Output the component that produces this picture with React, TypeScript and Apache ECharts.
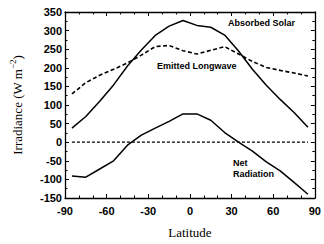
import React, { useEffect, useRef } from "react";
import * as echarts from "echarts";

const latitudes = [-85, -75, -65, -55, -45, -35, -25, -15, -5, 5, 15, 25, 35, 45, 55, 65, 75, 85];
const absorbedSolar = [38, 69, 110, 154, 205, 248, 287, 312, 327, 314, 309, 288, 245, 196, 153, 115, 80, 40];
const emittedLongwave = [130, 160, 180, 196, 213, 234, 257, 260, 246, 237, 247, 257, 237, 217, 201, 193, 186, 178];
const netRadiation = [-91, -94, -72, -50, -8, 19, 38, 56, 76, 76, 59, 26, 0, -24, -53, -77, -108, -140];
const zeroLatitudes = [-85, 85];
const zeroValues = [0, 0];

const labelFont = "'Liberation Sans', Arial, sans-serif";
const serifFont = "'Liberation Serif', 'Times New Roman', serif";

export default function App() {
  const ref = useRef<HTMLDivElement>(null);
  useEffect(() => {
    if (!ref.current) return;
    const chart = echarts.init(ref.current, null, { renderer: "svg" });
    const pair = (xs: number[], ys: number[]) => xs.map((x, i) => [x, ys[i]]);
    const axisLine = { show: true, onZero: false, lineStyle: { color: "#000", width: 1.3 } };
    const xCommon = {
      type: "value" as const,
      min: -90,
      max: 90,
      interval: 30,
      axisLine,
      axisTick: { show: true, inside: true, length: 4, lineStyle: { color: "#000", width: 1 } },
      minorTick: { show: true, splitNumber: 3, length: 2.5, lineStyle: { color: "#000", width: 1 } },
      splitLine: { show: false },
    };
    const yCommon = {
      type: "value" as const,
      min: -150,
      max: 350,
      interval: 50,
      axisLine,
      axisTick: { show: true, inside: true, length: 4, lineStyle: { color: "#000", width: 1 } },
      minorTick: { show: true, splitNumber: 2, length: 2.5, lineStyle: { color: "#000", width: 1 } },
      splitLine: { show: false },
    };
    chart.setOption({
      animation: false,
      grid: { left: 65, right: 5, top: 12, bottom: 45 },
      xAxis: [
        {
          ...xCommon,
          position: "bottom",
          axisLabel: { color: "#000", fontFamily: labelFont, fontWeight: "bold", fontSize: 11, margin: 7 },
          name: "Latitude",
          nameLocation: "middle",
          nameGap: 28,
          nameTextStyle: { color: "#000", fontFamily: serifFont, fontSize: 13 },
        },
        { ...xCommon, position: "top", axisLabel: { show: false } },
      ],
      yAxis: [
        {
          ...yCommon,
          position: "left",
          axisLabel: { color: "#000", fontFamily: labelFont, fontWeight: "bold", fontSize: 11, margin: 3 },
          name: "{a|Irradiance (W m}{s|−2}{a|)}",
          nameLocation: "middle",
          nameRotate: 90,
          nameGap: 41,
          nameTextStyle: {
            rich: {
              a: { color: "#000", fontFamily: serifFont, fontSize: 13, lineHeight: 16, verticalAlign: "bottom" },
              s: { color: "#000", fontFamily: serifFont, fontSize: 9, lineHeight: 16, verticalAlign: "top" },
            },
          },
        },
        { ...yCommon, position: "right", axisLabel: { show: false } },
      ],
      series: [
        {
          type: "line",
          name: "Absorbed Solar",
          data: pair(latitudes, absorbedSolar),
          symbol: "none",
          lineStyle: { color: "#000", width: 1.5 },
        },
        {
          type: "line",
          name: "Emitted Longwave",
          data: pair(latitudes, emittedLongwave),
          symbol: "none",
          lineStyle: { color: "#000", width: 1.6, type: [4, 2.5] },
        },
        {
          type: "line",
          name: "Net Radiation",
          data: pair(latitudes, netRadiation),
          symbol: "none",
          lineStyle: { color: "#000", width: 1.5 },
        },
        {
          type: "line",
          name: "Zero",
          data: pair(zeroLatitudes, zeroValues),
          symbol: "none",
          lineStyle: { color: "#000", width: 1.3, type: [3, 2] },
        },
      ],
      graphic: [
        {
          type: "text",
          x: 228,
          y: 23,
          style: { text: "Absorbed Solar", fill: "#000", font: `bold 9px ${labelFont}`, textVerticalAlign: "middle" },
        },
        {
          type: "text",
          x: 157,
          y: 66,
          style: { text: "Emitted Longwave", fill: "#000", font: `bold 9px ${labelFont}`, textVerticalAlign: "middle" },
        },
        {
          type: "text",
          x: 233,
          y: 163,
          style: { text: "Net", fill: "#000", font: `bold 9px ${labelFont}`, textVerticalAlign: "middle" },
        },
        {
          type: "text",
          x: 233,
          y: 174,
          style: { text: "Radiation", fill: "#000", font: `bold 9px ${labelFont}`, textVerticalAlign: "middle" },
        },
      ],
    });
    return () => chart.dispose();
  }, []);
  return <div ref={ref} style={{ width: 324, height: 244, position: "absolute", left: 0, top: 0 }} />;
}
